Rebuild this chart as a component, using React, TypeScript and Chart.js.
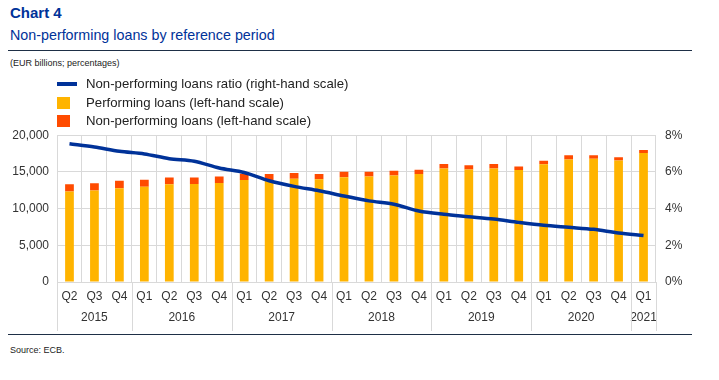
import React, { useEffect, useRef } from "react";
import { Chart, registerables } from "chart.js";

Chart.register(...registerables);

const quarters = ["Q2","Q3","Q4","Q1","Q2","Q3","Q4","Q1","Q2","Q3","Q4","Q1","Q2","Q3","Q4","Q1","Q2","Q3","Q4","Q1","Q2","Q3","Q4","Q1"];
const years = ["2015","2016","2017","2018","2019","2020","2021"];
const yearCounts = [3, 4, 4, 4, 4, 4, 1];
const performingLoans = [12330,12470,12760,12980,13310,13350,13480,13900,13910,14060,14000,14260,14360,14520,14700,15460,15310,15470,15260,16040,16700,16780,16540,17560];
const nonPerformingLoans = [1000,1000,1030,950,940,900,900,850,790,780,700,760,660,640,600,610,580,600,490,490,560,480,450,430];
const nplRatio = [7.54,7.36,7.12,6.98,6.72,6.58,6.21,5.97,5.52,5.21,4.97,4.69,4.42,4.24,3.87,3.69,3.56,3.43,3.25,3.09,2.98,2.87,2.67,2.54];
const leftTicks = [0, 5000, 10000, 15000, 20000];
const rightTicks = [0, 2, 4, 6, 8];

const BLUE = "#003299";
const YELLOW = "#FFB400";
const ORANGE = "#FF4B00";
const GRID = "#d9d9d9";
const FONT = "Arial, 'Liberation Sans', sans-serif";
const TEXT = "#333333";

const yearPlugin = {
  id: "yearRow",
  afterDraw(chart: any) {
    const x = chart.scales.x;
    const ctx = chart.ctx;
    const area = chart.chartArea;
    const n = quarters.length;
    const w = (x.right - x.left) / n;
    ctx.save();
    ctx.strokeStyle = GRID;
    ctx.lineWidth = 1;
    ctx.fillStyle = TEXT;
    ctx.font = "12px " + FONT;
    ctx.textAlign = "center";
    ctx.textBaseline = "middle";
    let idx = 0;
    const edges: number[] = [x.getPixelForValue(0) - w / 2];
    years.forEach((yr, i) => {
      const start = idx;
      const end = idx + yearCounts[i] - 1;
      const cx = (x.getPixelForValue(start) + x.getPixelForValue(end)) / 2;
      ctx.fillText(yr, cx, area.bottom + 36);
      edges.push(x.getPixelForValue(end) + w / 2);
      idx += yearCounts[i];
    });
    edges.forEach((ex) => {
      const px = Math.round(ex) + 0.5;
      ctx.beginPath();
      ctx.moveTo(px, area.bottom);
      ctx.lineTo(px, area.bottom + 49);
      ctx.stroke();
    });
    ctx.restore();
  },
};

export default function App() {
  const ref = useRef<HTMLCanvasElement | null>(null);
  useEffect(() => {
    if (!ref.current) return;
    const chart = new Chart(ref.current, {
      type: "bar",
      data: {
        labels: quarters,
        datasets: [
          {
            type: "line",
            label: "Non-performing loans ratio (right-hand scale)",
            data: nplRatio,
            yAxisID: "y1",
            borderColor: BLUE,
            backgroundColor: BLUE,
            borderWidth: 3.5,
            pointRadius: 0,
            tension: 0.3,
            order: 0,
          } as any,
          {
            label: "Performing loans (left-hand scale)",
            data: performingLoans,
            backgroundColor: YELLOW,
            yAxisID: "y",
            stack: "s",
            categoryPercentage: 1,
            barPercentage: 0.35,
            order: 1,
          },
          {
            label: "Non-performing loans (left-hand scale)",
            data: nonPerformingLoans,
            backgroundColor: ORANGE,
            yAxisID: "y",
            stack: "s",
            categoryPercentage: 1,
            barPercentage: 0.35,
            order: 1,
          },
        ],
      },
      options: {
        animation: false,
        responsive: false,
        maintainAspectRatio: false,
        layout: { padding: { top: 0, bottom: 0, left: 0, right: 0 } },
        plugins: { legend: { display: false }, tooltip: { enabled: false } },
        scales: {
          x: {
            stacked: true,
            grid: { color: GRID, drawTicks: false, offset: true },
            border: { color: GRID },
            ticks: {
              color: TEXT,
              font: { family: FONT, size: 12 },
              padding: 7,
              maxRotation: 0,
              autoSkip: false,
            },
            afterFit: (s: any) => { s.height = 51; },
          },
          y: {
            position: "left",
            stacked: true,
            min: leftTicks[0],
            max: leftTicks[leftTicks.length - 1],
            afterBuildTicks: (s: any) => { s.ticks = leftTicks.map((v) => ({ value: v })); },
            grid: { color: GRID, drawTicks: false },
            border: { display: false },
            ticks: {
              color: TEXT,
              font: { family: FONT, size: 12 },
              padding: 8,
              callback: (v: any) => Number(v).toLocaleString("en-US"),
            },
            afterFit: (s: any) => { s.width = 57; },
          },
          y1: {
            position: "right",
            min: rightTicks[0],
            max: rightTicks[rightTicks.length - 1],
            afterBuildTicks: (s: any) => { s.ticks = rightTicks.map((v) => ({ value: v })); },
            grid: { display: false, drawTicks: false },
            border: { display: false },
            ticks: {
              color: TEXT,
              font: { family: FONT, size: 12 },
              padding: 9,
              callback: (v: any) => v + "%",
            },
            afterFit: (s: any) => { s.width = 63; },
          },
        },
      },
      plugins: [yearPlugin],
    });
    return () => chart.destroy();
  }, []);

  const legendItems = [
    { label: "Non-performing loans ratio (right-hand scale)", color: BLUE, kind: "line" },
    { label: "Performing loans (left-hand scale)", color: YELLOW, kind: "box" },
    { label: "Non-performing loans (left-hand scale)", color: ORANGE, kind: "box" },
  ];
  const legendY = [84, 103, 121];

  return (
    <div style={{ position: "fixed", left: 0, top: 0, width: 719, height: 380, background: "#fff", fontFamily: FONT, overflow: "hidden" }}>
      <canvas ref={ref} width={719} height={214} style={{ position: "absolute", left: 0, top: 119, width: 719, height: 214 }} />
      <div style={{ position: "absolute", left: 10, top: 5, fontSize: 15, fontWeight: "bold", color: BLUE, lineHeight: "16px" }}>Chart 4</div>
      <div style={{ position: "absolute", left: 10, top: 27, fontSize: 14.3, color: BLUE, lineHeight: "16px" }}>Non-performing loans by reference period</div>
      <div style={{ position: "absolute", left: 8, top: 50, width: 684, height: 1, background: "#1e2f46" }} />
      <div style={{ position: "absolute", left: 10, top: 58, fontSize: 9, color: "#222", lineHeight: "11px" }}>(EUR billions; percentages)</div>
      {legendItems.map((it, i) => (
        <div key={i}>
          {it.kind === "line" ? (
            <div style={{ position: "absolute", left: 57, top: legendY[i] - 2, width: 20, height: 4, background: it.color }} />
          ) : (
            <div style={{ position: "absolute", left: 57, top: legendY[i] - 6, width: 13, height: 12, background: it.color }} />
          )}
          <div style={{ position: "absolute", left: 86, top: legendY[i] - 8, fontSize: 13.2, color: "#222", lineHeight: "16px", whiteSpace: "nowrap" }}>{it.label}</div>
        </div>
      ))}
      <div style={{ position: "absolute", left: 8, top: 334, width: 684, height: 1, background: "#1e2f46" }} />
      <div style={{ position: "absolute", left: 10, top: 345, fontSize: 9, color: "#222", lineHeight: "11px" }}>Source: ECB.</div>
    </div>
  );
}
